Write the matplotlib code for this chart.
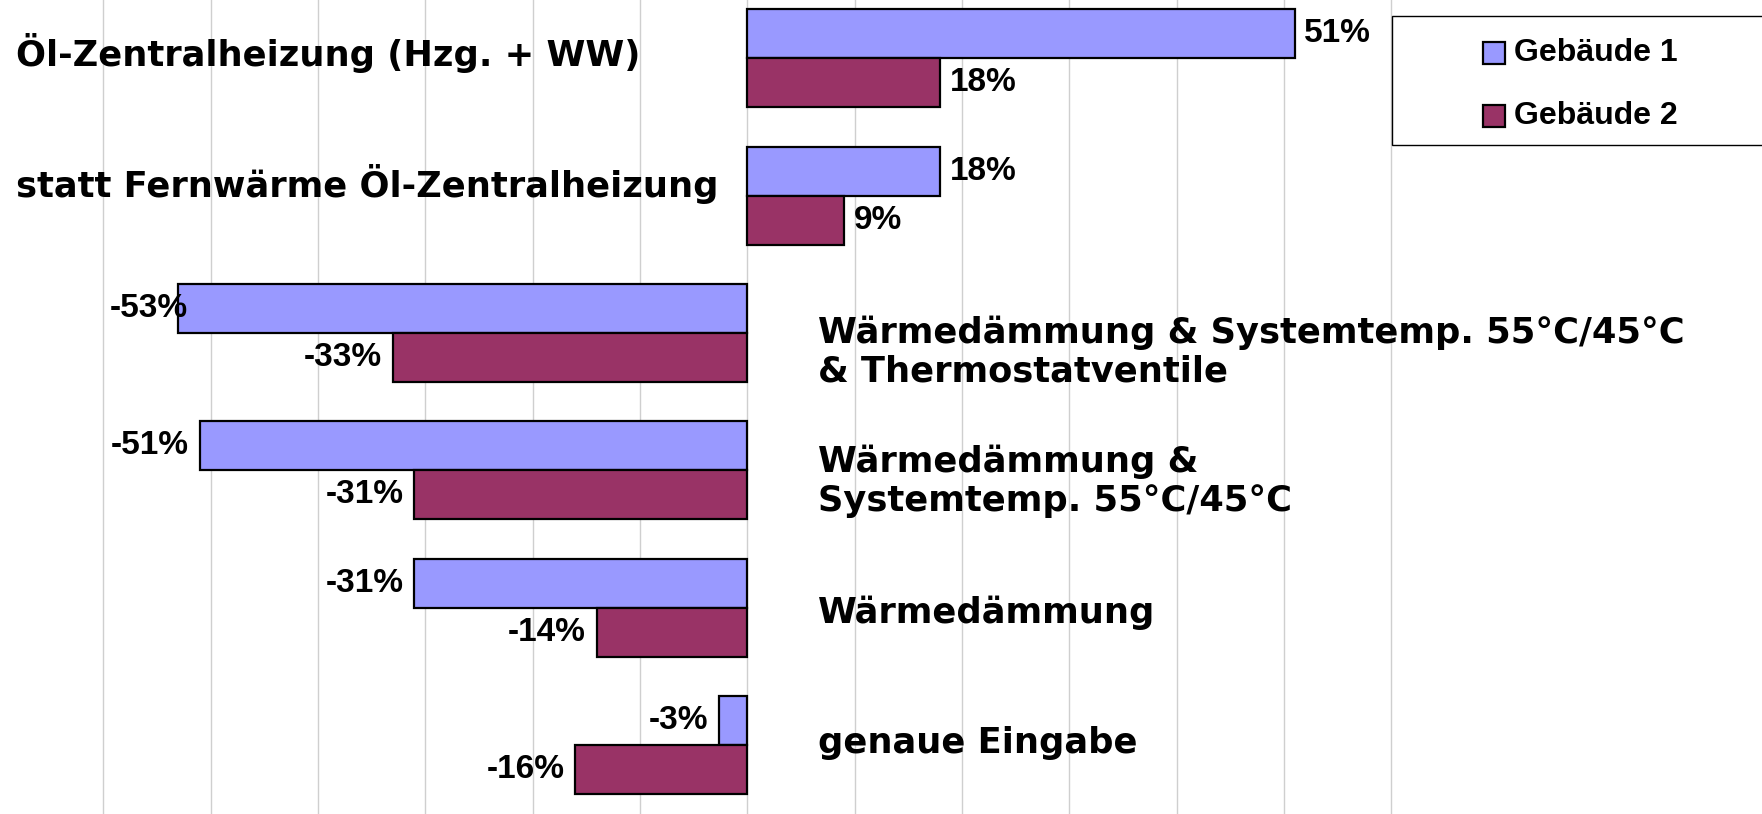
import matplotlib
matplotlib.use("Agg")
import matplotlib.pyplot as plt
from matplotlib.patches import Rectangle

# ---- data ----
categories = [
    "Öl-Zentralheizung (Hzg. + WW)",
    "statt Fernwärme Öl-Zentralheizung",
    "Wärmedämmung & Systemtemp. 55°C/45°C\n& Thermostatventile",
    "Wärmedämmung &\nSystemtemp. 55°C/45°C",
    "Wärmedämmung",
    "genaue Eingabe",
]
series_names = ["Gebäude 1", "Gebäude 2"]
gebaeude1 = [51, 18, -53, -51, -31, -2.6]
gebaeude2 = [18, 9, -33, -31, -14, -16]
grid_ticks = list(range(-60, 61, 10))

# ---- style ----
W, H = 1762, 814
DPI = 100
c1 = "#9999FF"
c2 = "#993366"
bar_h = 0.357
cat_font = ["DejaVu Sans"]
val_font = ["Liberation Sans", "DejaVu Sans"]
label_dy_px = [5, 12, -19, -11, -5, 2]   # layout nudges of category labels (px, up positive)

fig = plt.figure(figsize=(W / DPI, H / DPI), dpi=DPI)
ax = fig.add_axes([0, 0, 1, 1])
ax.set_xlim(-69.62, 94.55)
ax.set_ylim(5.503, -0.4253)
for s in ax.spines.values():
    s.set_visible(False)
ax.set_xticks(grid_ticks)
ax.set_yticks([])
ax.tick_params(axis="x", length=0, labelbottom=False)
ax.grid(axis="x", color="#cfcfcf", linewidth=1.0)
ax.set_axisbelow(True)

ypos = list(range(len(categories)))
y1 = [y - bar_h / 2 for y in ypos]
y2 = [y + bar_h / 2 for y in ypos]
bars1 = ax.barh(y1, gebaeude1, height=bar_h, color=c1, edgecolor="black", linewidth=1.6, zorder=3)
bars2 = ax.barh(y2, gebaeude2, height=bar_h, color=c2, edgecolor="black", linewidth=1.6, zorder=3)

# value labels
val_texts = []
for ys, vals in ((y1, gebaeude1), (y2, gebaeude2)):
    for y, v in zip(ys, vals):
        if v >= 0:
            t = ax.annotate(f"{v:.0f}%", xy=(v, y), xytext=(7, 0), textcoords="offset points",
                            ha="left", va="center", fontsize=24, fontweight="bold",
                            family=val_font, zorder=4)
        else:
            t = ax.annotate(f"{v:.0f}%", xy=(v, y), xytext=(-8, 0), textcoords="offset points",
                            ha="right", va="center", fontsize=24, fontweight="bold",
                            family=val_font, zorder=4)
            val_texts.append(t)

# category labels
for k, (cat, g1, dy) in enumerate(zip(categories, gebaeude1, label_dy_px)):
    if g1 >= 0:
        x_px = 16
    else:
        x_px = 818
    x_data = ax.transData.inverted().transform((x_px, 0))[0]
    ax.annotate(cat, xy=(x_data, k), xytext=(0, dy * 72 / DPI), textcoords="offset points",
                ha="left", va="center", fontsize=25.4, fontweight="bold",
                family=cat_font, linespacing=1.2, zorder=4)

# keep negative value labels inside the gridded area
fig.canvas.draw()
r = fig.canvas.get_renderer()
left_limit = ax.transData.transform((-60, 0))[0] + 7
for t in val_texts:
    bb = t.get_window_extent(r)
    if bb.x0 < left_limit:
        dx = (left_limit - bb.x0) * 72 / DPI
        ox, oy = t.xyann
        t.xyann = (ox + dx, oy)

# legend (drawn as a framed box partly cut by the right edge)
def fx(px):
    return px / W
def fy(py):
    return 1 - py / H

fig.add_artist(Rectangle((fx(1392), fy(145)), fx(1850) - fx(1392), fy(16) - fy(145),
                         transform=fig.transFigure, facecolor="white", edgecolor="black",
                         linewidth=1.0, zorder=5))
for name, col, cy in zip(series_names, (c1, c2), (53, 116)):
    fig.add_artist(Rectangle((fx(1483), fy(cy + 11)), fx(22), 22 / H,
                             transform=fig.transFigure, facecolor=col, edgecolor="black",
                             linewidth=1.6, zorder=6))
    fig.text(fx(1514), fy(cy), name, ha="left", va="center", fontsize=23,
             fontweight="bold", family=val_font, zorder=6)

fig.savefig("out.png", dpi=DPI)
